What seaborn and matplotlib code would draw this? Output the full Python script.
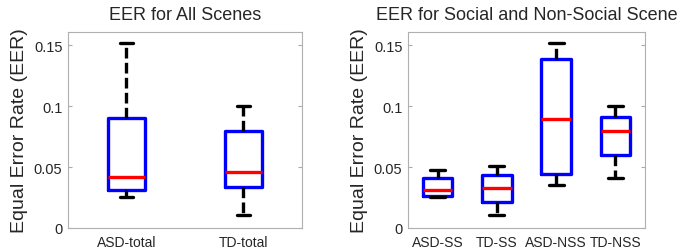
import numpy as np
import matplotlib
matplotlib.use("Agg")
import matplotlib.pyplot as plt
import seaborn as sns
import pandas as pd
from matplotlib.ticker import FixedLocator, FuncFormatter

sns.set_style("white")
plt.rcParams['font.family'] = ['Liberation Sans', 'DejaVu Sans']

# five-number summaries: [min, q1, median, q3, max]
total_groups = ['ASD-total', 'TD-total']
asd_total = [0.0253, 0.0313, 0.0422, 0.0901, 0.152]
td_total = [0.0103, 0.0335, 0.0457, 0.0795, 0.1002]

scene_groups = ['ASD-SS', 'TD-SS', 'ASD-NSS', 'TD-NSS']
asd_ss = [0.0251, 0.0259, 0.0311, 0.0414, 0.0473]
td_ss = [0.0103, 0.0211, 0.0332, 0.0432, 0.0508]
asd_nss = [0.0354, 0.0441, 0.0895, 0.1386, 0.1514]
td_nss = [0.0414, 0.0595, 0.0792, 0.0908, 0.1000]

yticks = [0, 0.05, 0.1, 0.15]


def to_long(groups, values):
    rows = []
    for g, v in zip(groups, values):
        for x in v:
            rows.append({'group': g, 'eer': x})
    return pd.DataFrame(rows)


df_total = to_long(total_groups, [asd_total, td_total])
df_scene = to_long(scene_groups, [asd_ss, td_ss, asd_nss, td_nss])

fig = plt.figure(figsize=(6.78, 2.53), dpi=100)
ax1 = fig.add_axes([68 / 678, 24 / 253, 234 / 678, 196 / 253])
ax2 = fig.add_axes([408 / 678, 24 / 253, 237 / 678, 196 / 253])

props = dict(
    boxprops=dict(color='#0000ff', linewidth=2.4),
    whiskerprops=dict(color='black', linewidth=2.4, linestyle=(0, (3.2, 1.3))),
    capprops=dict(color='black', linewidth=2.4),
    medianprops=dict(color='#ff0000', linewidth=2.4),
)


def draw(ax, df, order, width, capw, title):
    sns.boxplot(data=df, x='group', y='eer', order=order, ax=ax, whis=(0, 100),
                width=width, fill=False, showfliers=False, capwidths=capw, **props)
    ax.set_title(title, fontsize=13, pad=9)
    ax.set_xlabel('')
    ax.set_ylabel('Equal Error Rate (EER)', fontsize=14)
    ax.set_ylim(0, 0.1607)
    ax.set_xlim(-0.5, len(order) - 0.5)
    ax.yaxis.set_major_locator(FixedLocator(yticks))
    ax.yaxis.set_major_formatter(FuncFormatter(lambda v, p: '%g' % v))
    ax.tick_params(axis='y', which='both', direction='in', left=True, right=True,
                   length=3, color='#aaaaaa', labelsize=10.5, pad=4)
    ax.tick_params(axis='x', direction='in', length=0, labelsize=10, pad=5)
    for s in ax.spines.values():
        s.set_color('#b0b0b0')
        s.set_linewidth(0.8)


draw(ax1, df_total, total_groups, 0.32, 0.11, 'EER for All Scenes')
draw(ax2, df_scene, scene_groups, 0.5, 0.25, 'EER for Social and Non-Social Scene')

fig.savefig('out.png', dpi=100)
